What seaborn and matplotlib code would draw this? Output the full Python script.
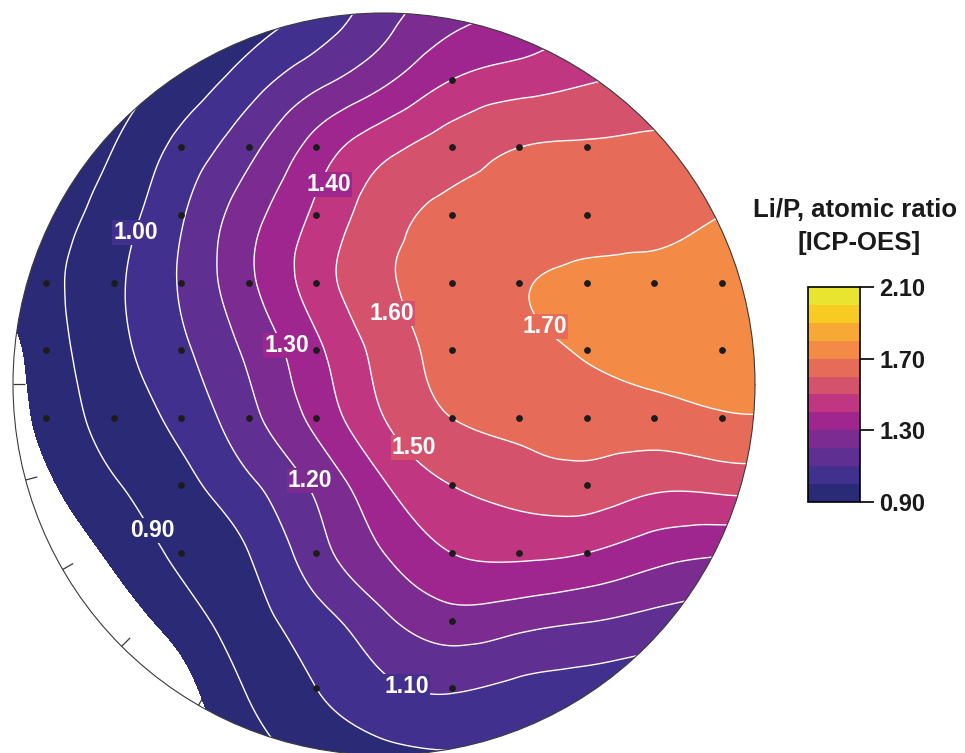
import numpy as np
import matplotlib
matplotlib.use("Agg")
import matplotlib.pyplot as plt
import matplotlib.tri as mtri
from matplotlib.colors import ListedColormap, BoundaryNorm
from matplotlib.cm import ScalarMappable
from matplotlib.patches import Circle
import seaborn as sns

# ---- data -------------------------------------------------------------
# interpolation nodes on the wafer (units: site pitch), columns and row centres
x_nodes = [-6, -5, -4, -3, -2, -1, 0, 1, 2, 3, 4, 5, 6]
y_nodes = [5.5, 4.5, 3.5, 2.5, 1.5, 0.5, -0.5, -1.5, -2.5, -3.5, -4.5, -5.5]

# Li/P atomic ratio at the nodes, one list per row (top to bottom)
li_p_ratio = [
    [0.50, 0.60, 0.70, 0.82, 0.93, 1.03, 1.16, 1.26, 1.32, 1.37, 1.42, 1.47, 1.52],
    [0.58, 0.68, 0.82, 0.93, 1.05, 1.17, 1.28, 1.40, 1.45, 1.49, 1.52, 1.55, 1.58],
    [0.64, 0.78, 0.90, 1.03, 1.17, 1.34, 1.47, 1.55, 1.60, 1.61, 1.62, 1.63, 1.64],
    [0.72, 0.84, 0.95, 1.09, 1.26, 1.42, 1.56, 1.62, 1.64, 1.66, 1.67, 1.70, 1.71],
    [0.76, 0.87, 0.98, 1.11, 1.28, 1.45, 1.585, 1.64, 1.69, 1.72, 1.73, 1.74, 1.74],
    [0.70, 0.85, 0.97, 1.08, 1.22, 1.38, 1.54, 1.63, 1.67, 1.71, 1.74, 1.75, 1.75],
    [0.68, 0.83, 0.94, 1.03, 1.17, 1.33, 1.50, 1.60, 1.63, 1.65, 1.66, 1.69, 1.69],
    [0.64, 0.78, 0.89, 0.97, 1.08, 1.22, 1.39, 1.50, 1.54, 1.56, 1.52, 1.53, 1.53],
    [0.58, 0.71, 0.82, 0.92, 1.00, 1.16, 1.30, 1.40, 1.42, 1.40, 1.34, 1.31, 1.28],
    [0.48, 0.60, 0.73, 0.85, 0.96, 1.06, 1.18, 1.26, 1.235, 1.205, 1.17, 1.14, 1.11],
    [0.40, 0.50, 0.62, 0.76, 0.91, 1.00, 1.08, 1.11, 1.08, 1.06, 1.03, 1.00, 0.98],
    [0.35, 0.42, 0.55, 0.72, 0.85, 0.93, 0.97, 0.99, 0.99, 0.97, 0.95, 0.93, 0.91],
]

# ICP-OES measurement sites
site_x = [1,
          -3, -2, -1, 1, 2, 3,
          -3, -1, 1, 3,
          -5, -4, -3, -2, -1, 1, 2, 3, 4, 5,
          -5, -3, -1, 1, 3, 5,
          -5, -4, -3, -2, -1, 1, 2, 3, 4, 5,
          -3, 1, 3,
          -3, -1, 1, 2, 3,
          1,
          -1, 1]
site_y = [4.5,
          3.5, 3.5, 3.5, 3.5, 3.5, 3.5,
          2.5, 2.5, 2.5, 2.5,
          1.5, 1.5, 1.5, 1.5, 1.5, 1.5, 1.5, 1.5, 1.5, 1.5,
          0.5, 0.5, 0.5, 0.5, 0.5, 0.5,
          -0.5, -0.5, -0.5, -0.5, -0.5, -0.5, -0.5, -0.5, -0.5, -0.5,
          -1.5, -1.5, -1.5,
          -2.5, -2.5, -2.5, -2.5, -2.5,
          -3.5,
          -4.5, -4.5]

# colour scale
scale_levels = [0.90, 1.00, 1.10, 1.20, 1.30, 1.40, 1.50, 1.60, 1.70, 1.80, 1.90, 2.00, 2.10]
scale_colors = ["#2b2a77", "#42308f", "#5f2f91", "#7c2b91", "#a0268f", "#c03680",
                "#d5526c", "#e66b59", "#f38a46", "#f8a835", "#f8cb22", "#e8e42f"]
cbar_ticks = [0.90, 1.30, 1.70, 2.10]

# lowest filled band (values just under 0.90 share the bottom colour)
floor_level = 0.80

# contour labels and where they sit on the map
label_levels = [1.00, 1.40, 1.60, 1.30, 1.70, 1.50, 1.20, 0.90, 1.10]
label_x = [-3.675, -0.814, 0.111, -1.442, 2.382, 0.444, -1.095, -3.425, 0.340]
label_y = [2.145, 2.855, 0.947, 0.473, 0.754, -1.036, -1.524, -2.263, -4.571]
# band behind each label: +1 = band above the level, -1 = band below it
label_side = [1, -1, -1, 1, -1, 1, 1, 1, -1]

# ---- style ------------------------------------------------------------
sns.set_theme(style="white")
plt.rcParams["font.family"] = ["Liberation Sans", "DejaVu Sans"]
plt.rcParams["font.weight"] = "bold"

W, H = 965, 753
fig = plt.figure(figsize=(W / 100, H / 100), dpi=100)
fig.patch.set_facecolor("white")

pitch_px = 67.6
cx_px, cy_px = 384, 384
ax = fig.add_axes([0, 0, 768 / W, 1])
ax.set_xlim(-cx_px / pitch_px, (768 - cx_px) / pitch_px)
ax.set_ylim((cy_px - H) / pitch_px, cy_px / pitch_px)
ax.set_axis_off()

R = 371 / pitch_px  # wafer radius in pitch units

# ---- surface ----------------------------------------------------------
X, Y = np.meshgrid(np.array(x_nodes, float), np.array(y_nodes, float))
Z = np.array(li_p_ratio, float)
ny, nx = Z.shape
tris = []
for j in range(ny - 1):
    for i in range(nx - 1):
        a = j * nx + i
        b, c, d = a + 1, a + nx, a + nx + 1
        tris.append([a, b, d])
        tris.append([a, d, c])
tri = mtri.Triangulation(X.ravel(), Y.ravel(), np.array(tris))
interp = mtri.CubicTriInterpolator(tri, Z.ravel(), kind="min_E")
tri_f, z_f = mtri.UniformTriRefiner(tri).refine_field(Z.ravel(), triinterpolator=interp, subdiv=4)

wafer = Circle((0, 0), R, transform=ax.transData, facecolor="none")

fill_levels = [floor_level] + scale_levels
fill_colors = [scale_colors[0]] + scale_colors
cf = ax.tricontourf(tri_f, z_f, levels=fill_levels, colors=fill_colors, zorder=2)
cf.set_clip_path(wafer)

cl = ax.tricontour(tri_f, z_f, levels=scale_levels[:-1], colors="white",
                   linewidths=1.0, zorder=3)
cl.set_clip_path(wafer)

# wafer rim with angular ticks every 15 degrees
tick_len = 12 / pitch_px
for ang in np.deg2rad(np.arange(0, 360, 15)):
    ax.plot([R * np.cos(ang), (R - tick_len) * np.cos(ang)],
            [R * np.sin(ang), (R - tick_len) * np.sin(ang)],
            color="#3a3a3a", lw=0.9, zorder=1, solid_capstyle="butt")
ax.add_patch(Circle((0, 0), R, fill=False, ec="#3a3a3a", lw=0.8, zorder=5))

# measurement sites
sns.scatterplot(x=site_x, y=site_y, ax=ax, color="#1c1c1c", s=24, linewidth=0,
                legend=False, zorder=6)

# contour value labels
for lev, lx, ly, side in zip(label_levels, label_x, label_y, label_side):
    k = int(round((lev - scale_levels[0]) / 0.1))
    k = max(k if side > 0 else k - 1, 0)
    ax.text(lx, ly, f"{lev:.2f}", ha="center", va="baseline", color="white",
            fontsize=16.5, fontweight="bold", zorder=7,
            bbox=dict(boxstyle="square,pad=0.05", fc=scale_colors[k], ec="none"))

# ---- colour bar -------------------------------------------------------
cax = fig.add_axes([808 / W, 1 - 502 / H, 52 / W, 215 / H])
sm = ScalarMappable(norm=BoundaryNorm(scale_levels, len(scale_colors)),
                    cmap=ListedColormap(scale_colors))
cb = fig.colorbar(sm, cax=cax, ticks=cbar_ticks)
cb.minorticks_off()
cb.ax.set_yticklabels([f"{t:.2f}" for t in cbar_ticks])
cb.ax.tick_params(axis="y", which="major", length=10, width=1.2, labelsize=17, pad=4,
                  color="black", labelcolor="#1a1a1a", direction="out", right=True)
cb.ax.tick_params(axis="y", which="minor", length=0)
for t in cb.ax.get_yticklabels():
    t.set_fontweight("bold")
cb.outline.set_linewidth(1.2)
cb.outline.set_edgecolor("black")

fig.text(855 / W, 1 - 217 / H, "Li/P, atomic ratio", ha="center", va="baseline",
         fontsize=18.5, fontweight="bold", color="#1a1a1a")
fig.text(859 / W, 1 - 250 / H, "[ICP-OES]", ha="center", va="baseline",
         fontsize=18.5, fontweight="bold", color="#1a1a1a")

fig.savefig("out.png", dpi=100, facecolor="white")
